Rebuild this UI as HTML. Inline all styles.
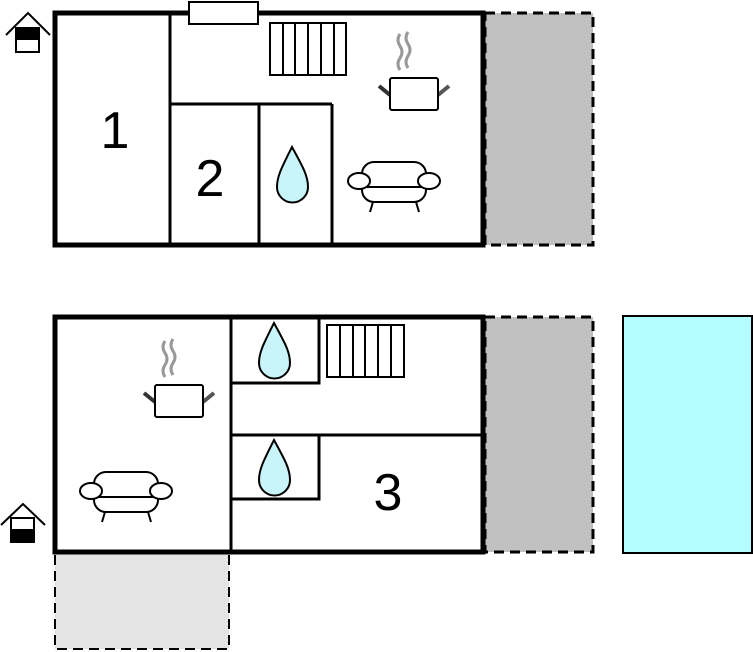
<!DOCTYPE html>
<html><head><meta charset="utf-8"><style>
html,body{margin:0;padding:0;background:#fff;}
svg{display:block;}
text{font-family:"Liberation Sans",sans-serif;}
</style></head><body>
<svg width="753" height="652" viewBox="0 0 753 652" xmlns="http://www.w3.org/2000/svg">
<defs>
<g id="sofa" fill="#fff" stroke="#000" stroke-width="2">
  <rect x="14" y="0" width="64" height="40" rx="12"/>
  <line x1="14" y1="25" x2="78" y2="25"/>
  <line x1="25" y1="40" x2="22" y2="50"/>
  <line x1="68" y1="40" x2="71" y2="50"/>
  <ellipse cx="11" cy="19" rx="11" ry="8"/>
  <ellipse cx="81" cy="19" rx="11" ry="8"/>
</g>
<g id="pot">
  <path d="M21 -44 q-4 6 0 12 q4 6 0 12 q-4 6 0 12" fill="none" stroke="#999" stroke-width="3"/>
  <path d="M29 -46 q-4 6 0 12 q4 6 0 12 q-4 6 0 12" fill="none" stroke="#999" stroke-width="3"/>
  <line x1="0" y1="8" x2="11" y2="17" stroke="#333" stroke-width="4"/>
  <line x1="59" y1="17" x2="70" y2="8" stroke="#555" stroke-width="4"/>
  <rect x="11" y="0" width="48" height="32" rx="2" fill="#fff" stroke="#000" stroke-width="2"/>
</g>
<path id="drop" d="M15 0 C5 20 0 29 0 40 A15.5 15.5 0 0 0 31 40 C31 29 26 20 15 0 Z" fill="#c8f4fa" stroke="#000" stroke-width="2"/>
</defs>

<!-- top building -->
<rect x="485" y="13" width="108" height="232" fill="#c0c0c0" stroke="#000" stroke-width="3" stroke-dasharray="10,6"/>
<rect x="55" y="13" width="428" height="232" fill="#fff" stroke="#000" stroke-width="5"/>
<line x1="170" y1="13" x2="170" y2="245" stroke="#000" stroke-width="3"/>
<line x1="170" y1="104" x2="332" y2="104" stroke="#000" stroke-width="3"/>
<line x1="259" y1="104" x2="259" y2="245" stroke="#000" stroke-width="3"/>
<line x1="332" y1="104" x2="332" y2="245" stroke="#000" stroke-width="3"/>
<rect x="189" y="2" width="69" height="22" fill="#fff" stroke="#000" stroke-width="2"/>
<g stroke="#000" stroke-width="2" fill="#fff">
<rect x="270" y="23" width="76" height="52"/>
<line x1="283" y1="23" x2="283" y2="75"/><line x1="295" y1="23" x2="295" y2="75"/><line x1="308" y1="23" x2="308" y2="75"/><line x1="321" y1="23" x2="321" y2="75"/><line x1="334" y1="23" x2="334" y2="75"/>
</g>
<use href="#pot" x="379" y="78"/>
<use href="#sofa" x="348" y="162"/>
<use href="#drop" x="277" y="147"/>
<text x="115" y="148" font-size="52" text-anchor="middle">1</text>
<text x="210" y="196" font-size="52" text-anchor="middle">2</text>
<g stroke="#000" stroke-width="2" fill="#fff">
<polyline points="6,35 28,13 50,35" fill="none"/>
<rect x="16" y="28" width="23" height="24"/>
<rect x="16" y="28" width="23" height="11" fill="#000"/>
</g>

<!-- bottom building -->
<rect x="485" y="317" width="108" height="235" fill="#c0c0c0" stroke="#000" stroke-width="3" stroke-dasharray="10,6"/>
<rect x="55" y="553" width="174" height="96" fill="#e4e4e4" stroke="#000" stroke-width="2" stroke-dasharray="10,6"/>
<rect x="55" y="317" width="428" height="235" fill="#fff" stroke="#000" stroke-width="5"/>
<rect x="623" y="316" width="129" height="237" fill="#b3ffff" stroke="#000" stroke-width="2"/>
<g stroke="#000" stroke-width="3" fill="none">
<line x1="231" y1="317" x2="231" y2="552"/>
<polyline points="231,383 319,383 319,317"/>
<line x1="231" y1="435" x2="483" y2="435"/>
<polyline points="231,499 319,499 319,435"/>
</g>
<g stroke="#000" stroke-width="2" fill="#fff">
<rect x="327" y="325" width="77" height="52"/>
<line x1="340" y1="325" x2="340" y2="377"/><line x1="353" y1="325" x2="353" y2="377"/><line x1="365" y1="325" x2="365" y2="377"/><line x1="378" y1="325" x2="378" y2="377"/><line x1="391" y1="325" x2="391" y2="377"/>
</g>
<use href="#drop" x="259" y="323"/>
<use href="#drop" x="259" y="440"/>
<use href="#pot" x="144" y="385"/>
<use href="#sofa" x="80" y="472"/>
<text x="388" y="510" font-size="52" text-anchor="middle">3</text>
<g stroke="#000" stroke-width="2" fill="#fff">
<polyline points="1,525 23,504 45,525" fill="none"/>
<rect x="11" y="518" width="23" height="24"/>
<rect x="11" y="530" width="23" height="12" fill="#000"/>
</g>
</svg>
</body></html>
